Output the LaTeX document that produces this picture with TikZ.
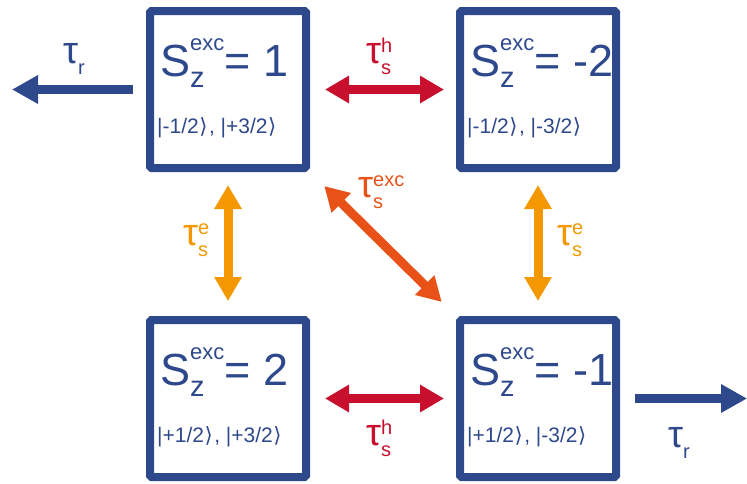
\documentclass[tikz,border=0pt]{standalone}
\usepackage{fontspec}
\setmainfont{Liberation Sans}
\newfontfamily\symfont{DejaVu Sans}
\usetikzlibrary{arrows.meta,calc}
\definecolor{stateblue}{RGB}{46,72,140}
\definecolor{holered}{RGB}{200,16,46}
\definecolor{elecamber}{RGB}{243,152,0}
\definecolor{excorange}{RGB}{232,82,24}
\tikzset{
  state/.style={draw=stateblue,line width=8pt,minimum width=156pt,minimum height=157pt,inner sep=0pt,rounded corners=1.5pt},
  flow/.style={line width=9pt,-{Triangle[length=26pt,width=27pt]}},
  flowboth/.style={line width=9pt,{Triangle[length=24pt,width=26pt]}-{Triangle[length=24pt,width=26pt]}},
  spinlbl/.style={inner sep=0pt,anchor=base west,text=stateblue,font=\fontsize{45}{50}\selectfont},
  ketlbl/.style={inner sep=0pt,anchor=base west,text=stateblue,font=\fontsize{21}{24}\selectfont},
  ratelbl/.style={inner sep=0pt,anchor=base west,font=\fontsize{38}{40}\selectfont},
}
\newcommand\spinz[1]{S\rlap{\raisebox{-11pt}{\fontsize{29}{29}\selectfont z}}\raisebox{26pt}{\fontsize{22}{22}\selectfont exc}= #1}
\newcommand\statekt[1]{|#1\kern0.5pt{\symfont ⟩}\kern1.5pt}
\newcommand\rate[2]{τ\rlap{\raisebox{11pt}{\fontsize{20}{20}\selectfont #1}}\raisebox{-11pt}{\fontsize{20}{20}\selectfont #2}}
\begin{document}
\begin{tikzpicture}[x=1pt,y=-1pt]
\path[use as bounding box] (0,0) rectangle (747,483);
% exciton states
\node[state] (s1) at (228,89.5) {};
\node[state] (sm2) at (538,89.5) {};
\node[state] (s2) at (228,398.5) {};
\node[state] (sm1) at (538,398.5) {};
\node[spinlbl] (s1txt) at ($(s1.north west)+(14,69)$) {\spinz{1}};
\node[spinlbl] (sm2txt) at ($(sm2.north west)+(14,69)$) {\spinz{-2}};
\node[spinlbl] (s2txt) at ($(s2.north west)+(14,69)$) {\spinz{2}};
\node[spinlbl] (sm1txt) at ($(sm1.north west)+(14,69)$) {\spinz{-1}};
\node[ketlbl] (s1ket) at ($(s1.north west)+(11,126)$) {\statekt{-1/2}, \statekt{+3/2}};
\node[ketlbl] (sm2ket) at ($(sm2.north west)+(11,126)$) {\statekt{-1/2}, \statekt{-3/2}};
\node[ketlbl] (s2ket) at ($(s2.north west)+(11,126)$) {\statekt{+1/2}, \statekt{+3/2}};
\node[ketlbl] (sm1ket) at ($(sm1.north west)+(11,126)$) {\statekt{+1/2}, \statekt{-3/2}};
% radiative decay
\coordinate (outl) at (12,89.5);
\coordinate (outr) at (747,398.5);
\draw[flow,stateblue,shorten <=13pt] (s1.west) -- (outl);
\draw[flow,stateblue,shorten <=15pt] (sm1.east) -- (outr);
\node[ratelbl,text=stateblue] (taurl) at (63,63) {\rate{}{r}};
\node[ratelbl,text=stateblue] (taurr) at (668,447) {\rate{}{r}};
% spin flips
\draw[flowboth,holered,shorten <=15pt,shorten >=12pt] (s1.east) -- (sm2.west);
\draw[flowboth,holered,shorten <=15pt,shorten >=12pt] (s2.east) -- (sm1.west);
\draw[flowboth,elecamber,shorten <=13pt,shorten >=15pt] (s1.south) -- (s2.north);
\draw[flowboth,elecamber,shorten <=13pt,shorten >=15pt] (sm2.south) -- (sm1.north);
\draw[flowboth,excorange,shorten <=20pt,shorten >=20pt] (s1.south east) -- (sm1.north west);
\node[ratelbl,text=holered] (tauht) at (366,63) {\rate{h}{s}};
\node[ratelbl,text=holered] (tauhb) at (366,445) {\rate{h}{s}};
\node[ratelbl,text=elecamber] (tauel) at (183,245) {\rate{e}{s}};
\node[ratelbl,text=elecamber] (tauer) at (557,245) {\rate{e}{s}};
\node[ratelbl,text=excorange] (tauex) at (358,197) {\rate{exc}{s}};
\end{tikzpicture}
\end{document}
